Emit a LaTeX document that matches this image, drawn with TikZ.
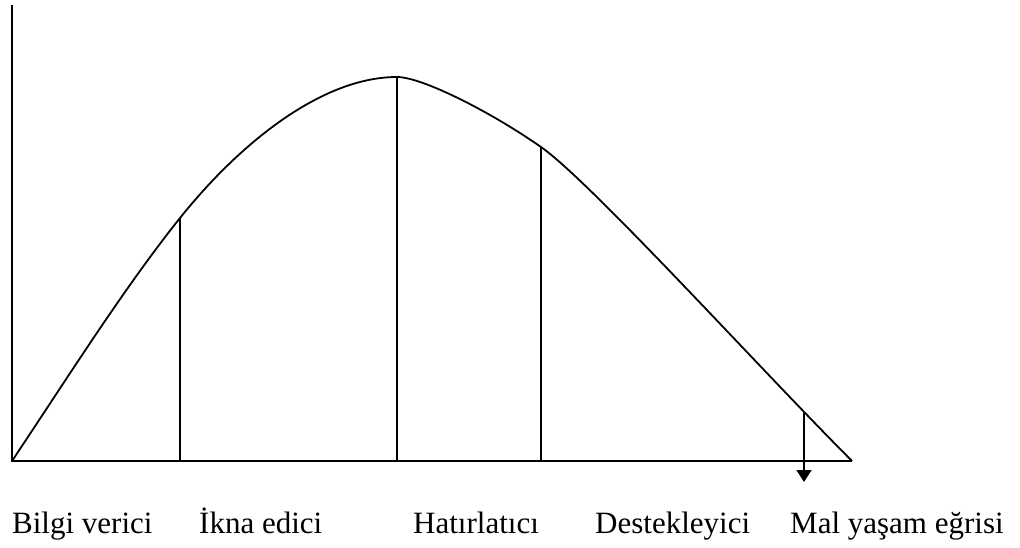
\documentclass[tikz,border=0pt]{standalone}
\usepackage{fontspec}
\setmainfont{Liberation Serif}
\usetikzlibrary{arrows.meta}

\begin{document}
\begin{tikzpicture}[
  x=1pt,y=-1pt,
  axis/.style={line width=2pt},
  curve/.style={line width=1.8pt},
  phase/.style={line width=1.8pt},
  flow/.style={line width=1.8pt,-{Triangle[length=12pt,width=15pt]}},
  lab/.style={font=\fontsize{31}{36}\selectfont,anchor=base west,inner sep=0pt}
]
\useasboundingbox (0,0) rectangle (1020,547);
% axes
\coordinate (O) at (12,461);
\coordinate (top) at (12,5);
\coordinate (end) at (852,461);
\draw[axis] (top) -- (O) -- (end);
% life-cycle curve
\coordinate (p1) at (180,218);
\coordinate (p2) at (397,77);
\coordinate (p3) at (541,147);
\coordinate (p4) at (804,412);
\draw[curve] (O) .. controls (68,377) and (124,288) .. (p1)
  .. controls (240,143) and (322,77) .. (p2)
  .. controls (422,77) and (491,112) .. (p3)
  .. controls (591,182) and (762,371) .. (end);
% phase lines
\draw[phase] (p1) -- (p1 |- O);
\draw[phase] (p2) -- (p2 |- O);
\draw[phase] (p3) -- (p3 |- O);
\coordinate (tip) at (804,482);
\draw[flow] (p4) -- (tip);
% labels
\node[lab] (bilgi) at (12,533) {Bilgi verici};
\node[lab] (ikna) at (199,533) {İkna edici};
\node[lab] (hatir) at (413,533) {Hatırlatıcı};
\node[lab] (destek) at (595,533) {Destekleyici};
\node[lab] (mal) at (790,533) {Mal yaşam eğrisi};
\end{tikzpicture}
\end{document}
